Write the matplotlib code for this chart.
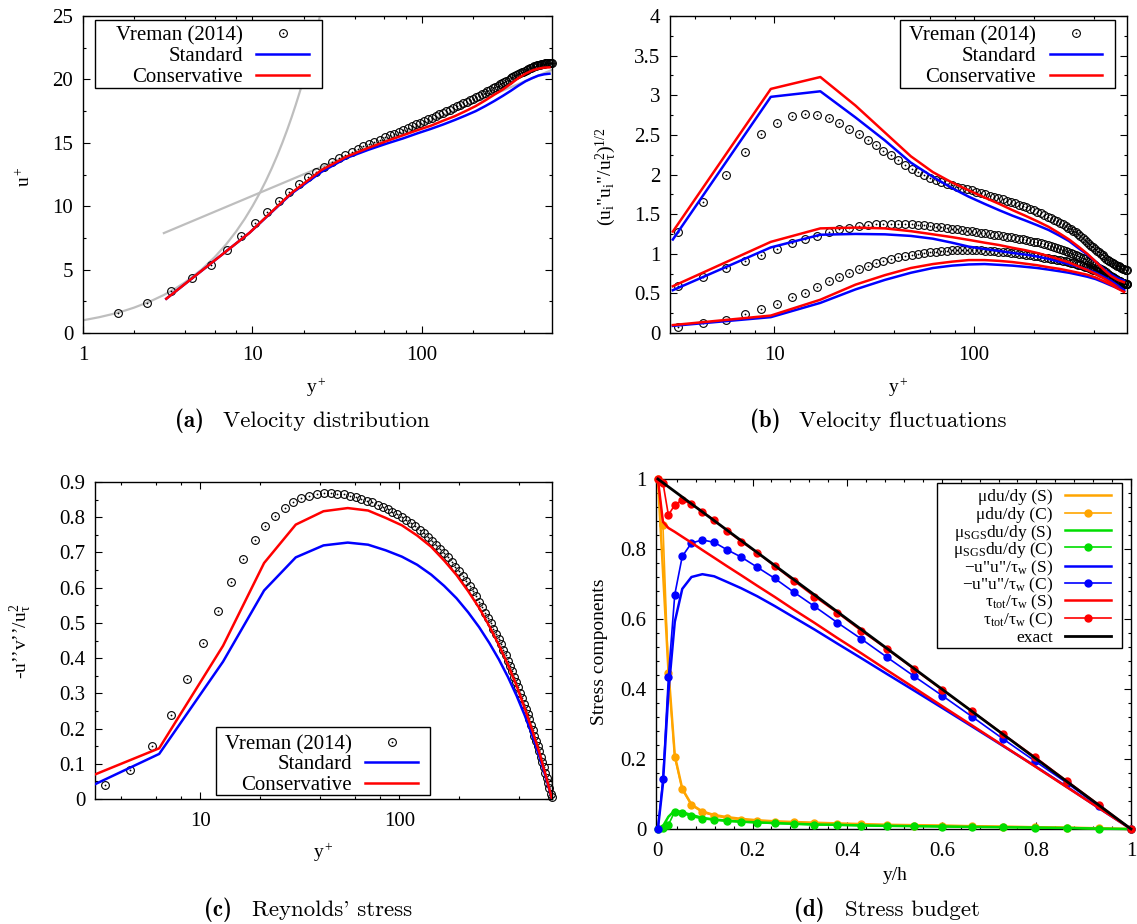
import numpy as np
import matplotlib
matplotlib.use("Agg")
import matplotlib.pyplot as plt
from matplotlib.lines import Line2D
from matplotlib.patches import Rectangle
from matplotlib.ticker import (FixedLocator, LogLocator, MultipleLocator,
                               FormatStrFormatter, NullFormatter)

plt.rcParams["font.family"] = ["Liberation Serif", "DejaVu Serif"]
plt.rcParams["mathtext.fontset"] = "custom"
plt.rcParams["mathtext.rm"] = "Liberation Serif"
plt.rcParams["mathtext.it"] = "Liberation Serif:italic"
plt.rcParams["mathtext.bf"] = "Liberation Serif:bold"
plt.rcParams["mathtext.default"] = "regular"

W, H = 1137, 924
RE_TAU = 585.0

# ---- DNS reference (Vreman 2014), wall units ----
dns_yplus = np.array([
    1.6, 2.4, 3.3, 4.4, 5.7, 7.1, 8.6, 10.35, 12.25, 14.25,
    16.35, 18.7, 21.2, 23.8, 26.5, 29.3, 32.2, 35.2, 38.4, 41.7,
    45.1, 48.7, 52.4, 56.3, 60.3, 64.4, 68.7, 73.1, 77.7, 82.4,
    87.2, 92.2, 97.4, 102.8, 108.4, 114.2, 120.2, 126.4, 132.8, 139.4,
    146.2, 153.2, 160.4, 167.8, 175.4, 183.2, 191.2, 199.4, 207.8, 216.4,
    225.2, 234, 243, 252, 261, 270, 279, 288, 297, 306,
    315, 324, 333, 342, 351, 360, 369, 378, 387, 396,
    405, 414, 423, 432, 441, 450, 459, 468, 477, 486,
    495, 504, 513, 522, 531, 540, 549, 558, 567, 576,
    585])

dns_uplus = [
    1.58, 2.37, 3.28, 4.33, 5.40, 6.52, 7.67, 8.68, 9.57, 10.38,
    11.10, 11.74, 12.27, 12.73, 13.13, 13.47, 13.78, 14.05, 14.30, 14.52,
    14.72, 14.91, 15.09, 15.26, 15.42, 15.58, 15.73, 15.88, 16.03, 16.17,
    16.31, 16.45, 16.58, 16.72, 16.85, 16.98, 17.11, 17.24, 17.37, 17.49,
    17.62, 17.74, 17.87, 17.99, 18.11, 18.24, 18.36, 18.48, 18.60, 18.72,
    18.84, 18.96, 19.08, 19.19, 19.30, 19.41, 19.51, 19.61, 19.71, 19.81,
    19.90, 19.99, 20.08, 20.17, 20.25, 20.33, 20.41, 20.48, 20.55, 20.62,
    20.69, 20.75, 20.81, 20.87, 20.92, 20.97, 21.02, 21.06, 21.10, 21.14,
    21.17, 21.20, 21.22, 21.24, 21.26, 21.27, 21.28, 21.29, 21.30, 21.30,
    21.30]

# fluctuations and shear stress, from y+ = 3.3 onwards
dns_urms = [
    1.28, 1.65, 1.99, 2.28, 2.51, 2.65, 2.74, 2.76,
    2.75, 2.71, 2.65, 2.58, 2.51, 2.44, 2.37, 2.30, 2.24, 2.18,
    2.12, 2.07, 2.03, 1.99, 1.96, 1.93, 1.905, 1.885, 1.865, 1.845,
    1.83, 1.815, 1.80, 1.785, 1.77, 1.75, 1.735, 1.72, 1.70, 1.685,
    1.67, 1.655, 1.64, 1.62, 1.60, 1.585, 1.565, 1.55, 1.53, 1.51,
    1.49, 1.47, 1.45, 1.43, 1.41, 1.39, 1.37, 1.35, 1.33, 1.31,
    1.29, 1.27, 1.245, 1.22, 1.20, 1.175, 1.15, 1.125, 1.10, 1.08,
    1.06, 1.04, 1.02, 1.00, 0.98, 0.96, 0.94, 0.925, 0.91, 0.895,
    0.88, 0.87, 0.86, 0.85, 0.84, 0.83, 0.82, 0.81, 0.805, 0.80,
    0.795]

dns_wrms = [
    0.59, 0.71, 0.82, 0.91, 0.99, 1.06, 1.13, 1.18,
    1.23, 1.27, 1.31, 1.33, 1.35, 1.36, 1.37, 1.375, 1.378, 1.378,
    1.375, 1.37, 1.365, 1.358, 1.35, 1.342, 1.333, 1.325, 1.316, 1.307,
    1.298, 1.29, 1.281, 1.273, 1.265, 1.257, 1.249, 1.241, 1.233, 1.225,
    1.217, 1.208, 1.20, 1.191, 1.182, 1.173, 1.163, 1.153, 1.143, 1.132,
    1.121, 1.11, 1.099, 1.088, 1.076, 1.064, 1.052, 1.039, 1.026, 1.013,
    1.0, 0.986, 0.972, 0.958, 0.944, 0.929, 0.914, 0.899, 0.884, 0.869,
    0.854, 0.839, 0.824, 0.809, 0.794, 0.779, 0.764, 0.75, 0.736, 0.722,
    0.709, 0.696, 0.684, 0.672, 0.661, 0.651, 0.642, 0.634, 0.628, 0.623,
    0.62]

dns_vrms = [
    0.072, 0.12, 0.17, 0.24, 0.30, 0.37, 0.45, 0.51,
    0.58, 0.65, 0.71, 0.76, 0.81, 0.85, 0.88, 0.91, 0.935, 0.955,
    0.97, 0.985, 1.0, 1.01, 1.02, 1.028, 1.035, 1.04, 1.044, 1.047,
    1.048, 1.048, 1.047, 1.045, 1.042, 1.039, 1.035, 1.031, 1.027, 1.022,
    1.017, 1.012, 1.006, 1.0, 0.994, 0.987, 0.98, 0.973, 0.966, 0.958,
    0.952, 0.946, 0.94, 0.934, 0.927, 0.92, 0.913, 0.905, 0.897, 0.889,
    0.881, 0.872, 0.863, 0.854, 0.845, 0.836, 0.827, 0.818, 0.809, 0.80,
    0.791, 0.781, 0.771, 0.761, 0.751, 0.741, 0.731, 0.721, 0.711, 0.701,
    0.691, 0.681, 0.671, 0.661, 0.652, 0.644, 0.636, 0.629, 0.624, 0.621,
    0.62]

dns_uv = [
    0.040, 0.082, 0.15, 0.238, 0.34, 0.442, 0.535, 0.615,
    0.681, 0.735, 0.775, 0.804, 0.827, 0.843, 0.854, 0.861, 0.866, 0.868,
    0.868, 0.867, 0.865, 0.861, 0.857, 0.852, 0.847, 0.842, 0.836, 0.830,
    0.823, 0.816, 0.808, 0.801, 0.792, 0.784, 0.774, 0.765, 0.755, 0.744,
    0.733, 0.722, 0.711, 0.699, 0.686, 0.674, 0.660, 0.647, 0.633, 0.619,
    0.604, 0.590, 0.575, 0.560, 0.544, 0.529, 0.514, 0.499, 0.484, 0.469,
    0.454, 0.439, 0.423, 0.408, 0.393, 0.378, 0.362, 0.347, 0.332, 0.317,
    0.302, 0.286, 0.271, 0.256, 0.241, 0.226, 0.210, 0.195, 0.180, 0.165,
    0.150, 0.135, 0.120, 0.105, 0.090, 0.075, 0.060, 0.045, 0.030, 0.015,
    0.005]

# ---- LES, cell centres (y+) ----
les_yplus = [3.1, 9.6, 17.0, 25.5, 35.8, 48.3, 62.3, 77.5, 94.2, 113.0,
             133.7, 156.2, 180.8, 207.7, 236.7, 267.4, 299.8, 334.1, 370.0,
             407.8, 446.7, 486.1, 525.6, 565.1]

uplus_std = [2.7, 7.9, 11.0, 12.7, 13.8, 14.45, 14.95, 15.35, 15.75, 16.1,
             16.45, 16.8, 17.15, 17.5, 17.9, 18.3, 18.7, 19.1, 19.5, 19.85,
             20.1, 20.3, 20.4, 20.45]
uplus_cons = [2.7, 7.9, 11.05, 12.85, 13.9, 14.6, 15.15, 15.6, 16.0, 16.35,
              16.75, 17.1, 17.5, 17.9, 18.35, 18.8, 19.2, 19.65, 20.1, 20.45,
              20.7, 20.85, 20.93, 20.95]

urms_std = [1.18, 2.98, 3.05, 2.72, 2.43, 2.15, 1.97, 1.83, 1.72, 1.63,
            1.55, 1.48, 1.42, 1.36, 1.30, 1.23, 1.16, 1.07, 0.99, 0.90,
            0.81, 0.74, 0.69, 0.66]
urms_cons = [1.28, 3.08, 3.23, 2.87, 2.53, 2.23, 2.03, 1.90, 1.80, 1.71,
             1.63, 1.55, 1.48, 1.41, 1.34, 1.26, 1.18, 1.09, 1.0, 0.90,
             0.80, 0.72, 0.67, 0.64]
wrms_std = [0.54, 1.08, 1.24, 1.25, 1.245, 1.225, 1.19, 1.14, 1.09, 1.06,
            1.035, 1.01, 0.99, 0.965, 0.935, 0.90, 0.87, 0.835, 0.80, 0.76,
            0.71, 0.66, 0.60, 0.54]
wrms_cons = [0.59, 1.15, 1.32, 1.33, 1.32, 1.285, 1.245, 1.21, 1.175, 1.14,
             1.11, 1.075, 1.045, 1.01, 0.97, 0.93, 0.89, 0.84, 0.795, 0.745,
             0.69, 0.635, 0.575, 0.52]
vrms_std = [0.09, 0.20, 0.38, 0.55, 0.67, 0.76, 0.82, 0.85, 0.865, 0.87,
            0.86, 0.85, 0.835, 0.82, 0.80, 0.78, 0.76, 0.735, 0.71, 0.68,
            0.64, 0.60, 0.565, 0.54]
vrms_cons = [0.10, 0.22, 0.42, 0.61, 0.73, 0.82, 0.87, 0.90, 0.92, 0.92,
             0.91, 0.895, 0.875, 0.855, 0.83, 0.81, 0.785, 0.76, 0.735, 0.70,
             0.655, 0.61, 0.56, 0.52]

# ---- LES, cell faces (y/h) : stress budget ----
les_yh = [0.0, 0.0106, 0.0222, 0.0357, 0.0515, 0.071, 0.094, 0.119, 0.146,
          0.176, 0.210, 0.247, 0.287, 0.331, 0.379, 0.430, 0.484, 0.541,
          0.601, 0.664, 0.730, 0.797, 0.865, 0.932, 1.0]
visc_std = [1.0, 0.74, 0.455, 0.21, 0.115, 0.07, 0.05, 0.04, 0.034, 0.029,
            0.025, 0.022, 0.02, 0.018, 0.016, 0.014, 0.012, 0.011, 0.01,
            0.008, 0.007, 0.005, 0.004, 0.002, 0.0]
visc_cons = [1.0, 0.87, 0.445, 0.205, 0.113, 0.068, 0.048, 0.038, 0.031,
             0.027, 0.024, 0.021, 0.019, 0.017, 0.015, 0.013, 0.012, 0.010,
             0.009, 0.008, 0.006, 0.005, 0.004, 0.002, 0.0]
sgs_std = [0.0, 0.008, 0.035, 0.053, 0.048, 0.04, 0.032, 0.027, 0.024, 0.021,
           0.019, 0.017, 0.015, 0.013, 0.012, 0.010, 0.009, 0.008, 0.007,
           0.006, 0.005, 0.004, 0.003, 0.001, 0.0]
sgs_cons = [0.0, 0.002, 0.012, 0.050, 0.045, 0.036, 0.029, 0.026, 0.022,
            0.020, 0.018, 0.016, 0.014, 0.012, 0.011, 0.010, 0.009, 0.008,
            0.007, 0.006, 0.005, 0.004, 0.003, 0.001, 0.0]
uv_std = [0.0, 0.128, 0.39, 0.592, 0.686, 0.72, 0.728, 0.722, 0.706, 0.688,
          0.665, 0.637, 0.605, 0.57, 0.53, 0.488, 0.443, 0.396, 0.346, 0.293,
          0.237, 0.18, 0.12, 0.06, 0.0]
uv_cons = [0.0, 0.144, 0.435, 0.670, 0.779, 0.817, 0.826, 0.819, 0.798,
           0.777, 0.748, 0.716, 0.677, 0.636, 0.590, 0.543, 0.491, 0.437,
           0.381, 0.321, 0.257, 0.194, 0.131, 0.065, 0.0]
tot_std = [1.0, 0.878, 0.860, 0.849, 0.835, 0.818, 0.797, 0.775, 0.751,
           0.725, 0.695, 0.663, 0.627, 0.589, 0.546, 0.502, 0.454, 0.404,
           0.351, 0.296, 0.238, 0.179, 0.119, 0.060, 0.0]
tot_cons = [1.0, 0.99, 0.897, 0.926, 0.940, 0.928, 0.907, 0.883, 0.852,
            0.821, 0.789, 0.751, 0.709, 0.664, 0.618, 0.566, 0.514, 0.457,
            0.397, 0.337, 0.271, 0.206, 0.137, 0.070, 0.0]
exact_yh = [0.0, 1.0]
exact_tau = [1.0, 0.0]

# -u''v'' close to the wall, where the first face lies left of the axis
uv_edge_yplus = 2.9
uv_edge_std = 0.04
uv_edge_cons = 0.068

# law of the wall guides
visc_yplus = [1, 1.25, 1.5, 1.75, 2, 2.5, 3, 3.5, 4, 5, 6, 7, 8, 9, 10,
              11, 12, 13, 14, 15, 16, 17, 18, 19, 20, 21, 22, 23, 24, 25]
loglaw_yplus = [3.0, 585.0]
loglaw_uplus = [7.88, 20.75]

BLUE, RED = "#0000ff", "#ff0000"
ORANGE, GREEN = "#ffa500", "#00dd00"
GREY = "#bebebe"

TICK_FS = 15
KEY_FS = 15
LABEL_FS = 14

fig = plt.figure(figsize=(W / 100, H / 100), dpi=100)


def add_axes_px(box):
    left, top, right, bottom = box
    return fig.add_axes([left / W, 1 - bottom / H, (right - left) / W,
                         (bottom - top) / H])


def style_axes(ax):
    for s in ax.spines.values():
        s.set_linewidth(1.0)
    ax.tick_params(which="both", direction="in", top=True, right=True,
                   labelsize=TICK_FS, width=0.8)
    ax.tick_params(axis="x", which="both", pad=9)
    ax.tick_params(axis="y", which="both", pad=7)
    ax.tick_params(which="major", length=5)
    ax.tick_params(which="minor", length=2.5)
    ax.yaxis.set_major_formatter(FormatStrFormatter("%g"))
    ax.xaxis.set_major_formatter(FormatStrFormatter("%g"))


def log_x(ax, majors):
    ax.set_xscale("log")
    ax.xaxis.set_major_locator(FixedLocator(majors))
    ax.xaxis.set_major_formatter(FormatStrFormatter("%g"))
    ax.xaxis.set_minor_locator(LogLocator(base=10, subs=(2, 4, 6, 8), numticks=20))
    ax.xaxis.set_minor_formatter(NullFormatter())


def place_labels(ax, box, xlabel, xpos, ylabel, ypos):
    left, top, right, bottom = box
    w, h = right - left, bottom - top
    ax.set_xlabel(xlabel, fontsize=LABEL_FS, va="center", ha="center")
    ax.xaxis.set_label_coords((xpos[0] - left) / w, (bottom - xpos[1]) / h)
    ax.set_ylabel(ylabel, fontsize=LABEL_FS, va="center", ha="center")
    ax.yaxis.set_label_coords((ypos[0] - left) / w, (bottom - ypos[1]) / h)


DNS_RING = dict(marker="o", ms=5.6, mfc="none", mec="black", mew=0.8)
DNS_DOT = dict(marker="o", ms=1.3, mfc="black", mec="black", mew=0)


def plot_dns(ax, x, y):
    ax.plot(x, y, ls="none", clip_on=False, zorder=3, **DNS_RING)
    ax.plot(x, y, ls="none", clip_on=False, zorder=3, **DNS_DOT)


def gp_legend(box, entries, rows_y, text_x, sample_x, fontsize):
    """gnuplot-like key: right-aligned text followed by the sample."""
    x0, y0, x1, y1 = box
    fig.add_artist(Rectangle((x0 / W, 1 - y1 / H), (x1 - x0) / W, (y1 - y0) / H,
                             transform=fig.transFigure, facecolor="white",
                             edgecolor="black", lw=1.0, zorder=20))
    xs = [sample_x[0] / W, sample_x[1] / W]
    xm = 0.5 * (xs[0] + xs[1])
    for (label, style), y in zip(entries, rows_y):
        fy = 1 - y / H
        fig.text(text_x / W, fy, label, ha="right", va="center_baseline",
                 fontsize=fontsize, zorder=21)
        if style == "dns":
            for kw in (DNS_RING, DNS_DOT):
                fig.add_artist(Line2D([xm], [fy], ls="none",
                                      transform=fig.transFigure, zorder=21, **kw))
            continue
        fig.add_artist(Line2D(xs, [fy, fy], color=style["color"], lw=style["lw"],
                              transform=fig.transFigure, zorder=21))
        if style.get("marker"):
            fig.add_artist(Line2D([xm], [fy], ls="none", marker="o", ms=5,
                                  color=style["color"],
                                  transform=fig.transFigure, zorder=21))


def caption(tag, text, tag_x, text_x, y):
    fig.text(tag_x / W, 1 - y / H, tag, fontfamily="cmb10", fontsize=16.5,
             ha="left", va="center")
    fig.text(text_x / W, 1 - y / H, text, fontfamily="cmr10", fontsize=16.5,
             ha="left", va="center")


LES_LW = 1.8
les_entries = [("Vreman (2014)", "dns"),
               ("Standard", dict(color=BLUE, lw=LES_LW)),
               ("Conservative", dict(color=RED, lw=LES_LW))]

# (a) mean velocity
box_a = (83, 16, 552, 333)
ax = add_axes_px(box_a)
style_axes(ax)
log_x(ax, [1, 10, 100])
ax.plot(visc_yplus, visc_yplus, color=GREY, lw=1.6, zorder=1)
ax.plot(loglaw_yplus, loglaw_uplus, color=GREY, lw=1.6, zorder=1)
plot_dns(ax, dns_yplus, dns_uplus)
ax.plot(les_yplus, uplus_std, color=BLUE, lw=LES_LW, zorder=4)
ax.plot(les_yplus, uplus_cons, color=RED, lw=LES_LW, zorder=4)
ax.set_xlim(1, RE_TAU)
ax.set_ylim(0, 25)
ax.yaxis.set_major_locator(MultipleLocator(5))
ax.yaxis.set_minor_locator(MultipleLocator(2.5))
place_labels(ax, box_a, "y$^+$", (316, 388), "u$^+$", (25, 177))
gp_legend((95, 20, 322, 88), les_entries, [33, 54, 75], 243, (256, 309), KEY_FS)

# (b) rms velocity fluctuations
box_b = (670, 16, 1127, 333)
ax = add_axes_px(box_b)
style_axes(ax)
log_x(ax, [10, 100])
yp = dns_yplus[2:]
for series in (dns_urms, dns_wrms, dns_vrms):
    plot_dns(ax, yp, series)
for std, cons in ((urms_std, urms_cons), (wrms_std, wrms_cons), (vrms_std, vrms_cons)):
    ax.plot(les_yplus, std, color=BLUE, lw=LES_LW, zorder=4)
    ax.plot(les_yplus, cons, color=RED, lw=LES_LW, zorder=4)
ax.set_xlim(3.0, RE_TAU)
ax.set_ylim(0, 4)
ax.yaxis.set_major_locator(MultipleLocator(0.5))
ax.yaxis.set_minor_locator(MultipleLocator(0.25))
place_labels(ax, box_b, "y$^+$", (898, 388),
             '(u$_i$"u$_i$"/u$_τ^2$)$^{1/2}$', (606, 177))
gp_legend((900, 20, 1115, 88), les_entries, [33, 54, 75], 1036, (1050, 1102), KEY_FS)

# (c) Reynolds shear stress
box_c = (95, 482, 552, 799)
ax = add_axes_px(box_c)
style_axes(ax)
log_x(ax, [10, 100])
plot_dns(ax, yp, dns_uv)
face_yplus = np.r_[uv_edge_yplus, np.array(les_yh[1:]) * RE_TAU]
ax.plot(face_yplus, np.r_[uv_edge_std, uv_std[1:]], color=BLUE, lw=LES_LW, zorder=4)
ax.plot(face_yplus, np.r_[uv_edge_cons, uv_cons[1:]], color=RED, lw=LES_LW, zorder=4)
ax.set_xlim(2.95, RE_TAU)
ax.set_ylim(0, 0.9)
ax.yaxis.set_major_locator(MultipleLocator(0.1))
ax.yaxis.set_minor_locator(MultipleLocator(0.05))
place_labels(ax, box_c, "y$^+$", (323, 853), "-u’’v’’/u$_τ^2$", (21, 641))
gp_legend((216, 727, 430, 795), les_entries, [742, 762, 783], 352, (365, 418), KEY_FS)

# (d) stress budget
box_d = (656, 479, 1131, 829)
ax = add_axes_px(box_d)
style_axes(ax)
S_LW, C_LW = 1.8, 1.2
budget = [
    ("μdu/dy (S)", visc_std, ORANGE, False),
    ("μdu/dy (C)", visc_cons, ORANGE, True),
    ("μ$_{SGS}$du/dy (S)", sgs_std, GREEN, False),
    ("μ$_{SGS}$du/dy (C)", sgs_cons, GREEN, True),
    ('−u"u"/τ$_w$ (S)', uv_std, BLUE, False),
    ('−u"u"/τ$_w$ (C)', uv_cons, BLUE, True),
    ("τ$_{tot}$/τ$_w$ (S)", tot_std, RED, False),
    ("τ$_{tot}$/τ$_w$ (C)", tot_cons, RED, True),
]
entries_d = []
for label, vals, color, with_marker in budget:
    if with_marker:
        ax.plot(les_yh, vals, color=color, lw=C_LW, marker="o", ms=5,
                clip_on=False, zorder=3)
    else:
        ax.plot(les_yh, vals, color=color, lw=S_LW, clip_on=False, zorder=3)
    entries_d.append((label, dict(color=color, lw=C_LW if with_marker else S_LW,
                                  marker=with_marker)))
ax.plot(exact_yh, exact_tau, color="black", lw=2.0, clip_on=False, zorder=4)
entries_d.append(("exact", dict(color="black", lw=2.0)))
ax.set_xlim(-0.004, 1.0)
ax.set_ylim(0, 1.0)
ax.xaxis.set_major_locator(MultipleLocator(0.2))
ax.xaxis.set_minor_locator(MultipleLocator(0.04))
ax.yaxis.set_major_locator(MultipleLocator(0.2))
ax.yaxis.set_minor_locator(MultipleLocator(0.04))
place_labels(ax, box_d, "y/h", (895, 875), "Stress components", (600, 652))
gp_legend((937, 483, 1122, 648), entries_d,
          [495, 512.7, 530, 547.3, 565.7, 582.7, 600, 617.7, 635.7],
          1053, (1065, 1111), 12.5)

caption("(a)", "Velocity distribution", 175, 223, 421)
caption("(b)", "Velocity fluctuations", 750, 799, 421)
caption("(c)", "Reynolds' stress", 204, 252, 910)
caption("(d)", "Stress budget", 794, 845, 910)

fig.savefig("out.png", dpi=100)
